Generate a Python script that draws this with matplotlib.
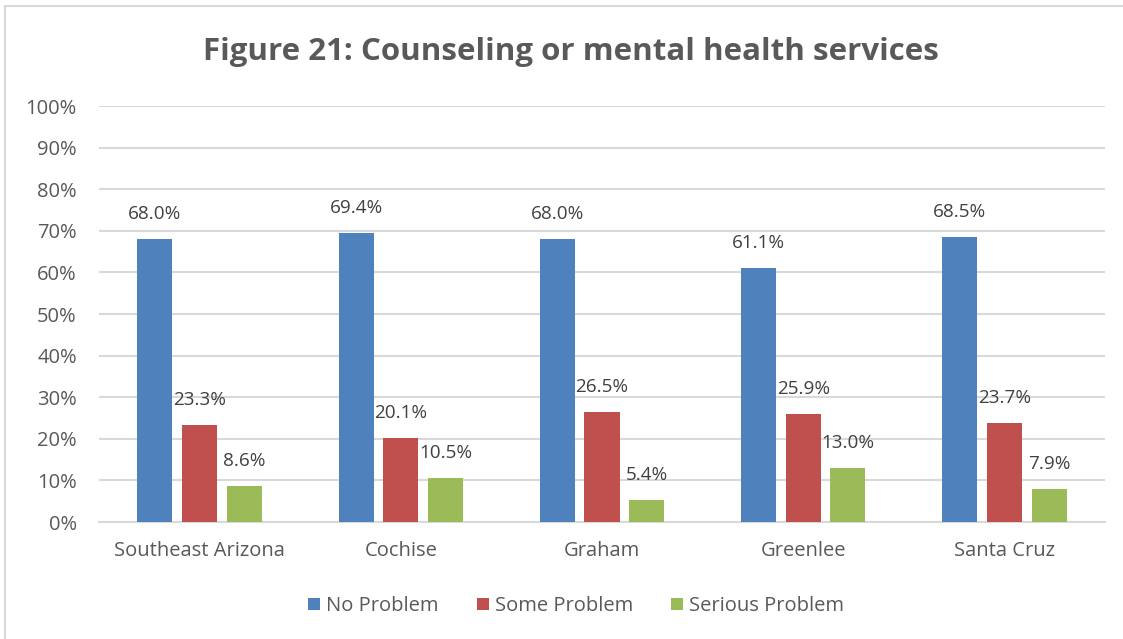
import numpy as np
import matplotlib
matplotlib.use("Agg")
from matplotlib import pyplot as plt
from matplotlib.patches import Rectangle

plt.rcParams["font.family"] = ["Open Sans", "DejaVu Sans"]

counties = ["Southeast Arizona", "Cochise", "Graham", "Greenlee", "Santa Cruz"]
no_problem = [68.0, 69.4, 68.0, 61.1, 68.5]
some_problem = [23.3, 20.1, 26.5, 25.9, 23.7]
serious_problem = [8.6, 10.5, 5.4, 13.0, 7.9]
series_names = ["No Problem", "Some Problem", "Serious Problem"]

colors = ["#4f81bd", "#c0504d", "#9bbb59"]
text_color = "#595959"
grid_color = "#d9d9d9"

fig = plt.figure(figsize=(11.23, 6.39), dpi=100)
ax = fig.add_axes([99 / 1123, 1 - 522 / 639, 1006 / 1123, 416 / 639])

# outer chart frame
fig.patches.append(Rectangle((5 / 1123, -0.1), 1.2, 1 - 6 / 639 + 0.1,
                             transform=fig.transFigure, fill=False,
                             edgecolor=grid_color, linewidth=1.5))

x = np.arange(len(counties))
width = 0.174
step = 0.222
for i, (vals, name) in enumerate(zip([no_problem, some_problem, serious_problem], series_names)):
    pos = x + (i - 1) * step
    ax.bar(pos, vals, width, color=colors[i], label=name, zorder=3)
    for px, v in zip(pos, vals):
        ax.annotate(f"{v:.1f}%", (px, v), xytext=(0, 18), textcoords="offset points",
                    ha="center", va="center", fontsize=13.6, color="#404040")

ax.set_xlim(-0.5, len(counties) - 0.5)
ax.set_ylim(0, 100)
ax.set_yticks(np.arange(0, 101, 10))
ax.set_yticklabels([f"{t}%" for t in range(0, 101, 10)])
ax.set_xticks(x)
ax.set_xticklabels(counties)
ax.tick_params(axis="y", length=0, pad=16, labelsize=14.5, labelcolor=text_color)
ax.tick_params(axis="x", length=0, pad=14, labelsize=14.5, labelcolor=text_color)
ax.yaxis.grid(True, color=grid_color, linewidth=1.5, zorder=0)
for side in ["top", "right", "left"]:
    ax.spines[side].set_visible(False)
ax.spines["bottom"].set_color(grid_color)
ax.spines["bottom"].set_linewidth(1.5)

fig.text(0.508, 1 - 52 / 639, "Figure 21: Counseling or mental health services",
         ha="center", va="center", fontsize=22.5, fontweight="bold", color=text_color)

fig.legend(loc="center", bbox_to_anchor=(0.513, 1 - 606 / 639), ncol=3, frameon=False,
           fontsize=14.5, labelcolor=text_color, handlelength=0.6, handleheight=0.6,
           handletextpad=0.3, columnspacing=1.9)

plt.savefig("out.png", dpi=100)
